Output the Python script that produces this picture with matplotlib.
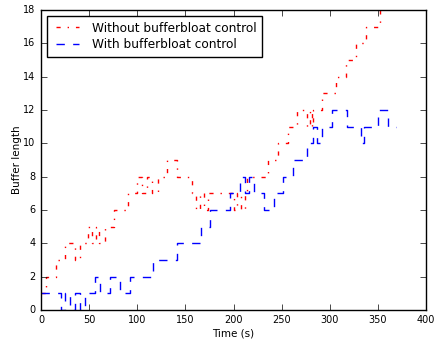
import matplotlib
matplotlib.use("Agg")
import matplotlib.pyplot as plt

# buffer length over time (step changes)
t_without = [0, 5, 16, 25, 35, 40, 49, 53, 57, 60, 66, 76, 90, 100, 105, 110, 115, 121,
             131, 141, 157, 161, 165, 169, 173, 177, 200, 204, 208, 212, 214, 236, 246,
             257, 266, 276, 279, 281, 283, 292, 306, 317, 327, 338, 352]
v_without = [1, 2, 3, 4, 3, 4, 5, 4, 5, 4, 5, 6, 7, 8, 7, 8, 7, 8,
             9, 8, 7, 6, 7, 6, 7, 7, 6, 7, 6, 7, 8, 9, 10,
             11, 12, 11, 12, 11, 12, 13, 14, 15, 16, 17, 18]

t_with = [0, 21, 25, 30, 35, 40, 46, 56, 61, 72, 82, 92, 116, 141, 166, 175, 196, 207,
          212, 216, 221, 232, 242, 251, 262, 276, 283, 287, 292, 302, 318, 332, 336,
          350, 360, 369]
v_with = [1, 0, 1, 0, 1, 0, 1, 2, 1, 2, 1, 2, 3, 4, 5, 6, 7, 8,
          7, 8, 7, 6, 7, 8, 9, 10, 11, 10, 11, 12, 11, 10, 11,
          12, 11, 11]

plt.style.use("classic")
plt.rcParams["font.family"] = "DejaVu Sans"

fig = plt.figure(figsize=(4.37, 3.39), dpi=100)
ax = fig.add_axes([0.094, 0.086, 0.881, 0.884])
ax.step(t_without, v_without, where="post", color="r", linestyle="-.", linewidth=1,
        label="Without bufferbloat control")
ax.step(t_with, v_with, where="post", color="b", linestyle="--", linewidth=1,
        label="With bufferbloat control")
ax.set_xlim(0, 400)
ax.set_ylim(0, 18)
ax.set_xticks(range(0, 401, 50))
ax.set_yticks(range(0, 19, 2))
ax.tick_params(labelsize=7, length=4)
ax.set_xlabel("Time (s)", fontsize=7.5, labelpad=2)
ax.set_ylabel("Buffer length", fontsize=7.5, labelpad=1)
leg = ax.legend(loc="upper left", fontsize=8.7, handlelength=2.5, borderpad=0.45,
                labelspacing=0.3)
leg.get_frame().set_linewidth(1)
fig.savefig("out.png", dpi=100, facecolor="white")
